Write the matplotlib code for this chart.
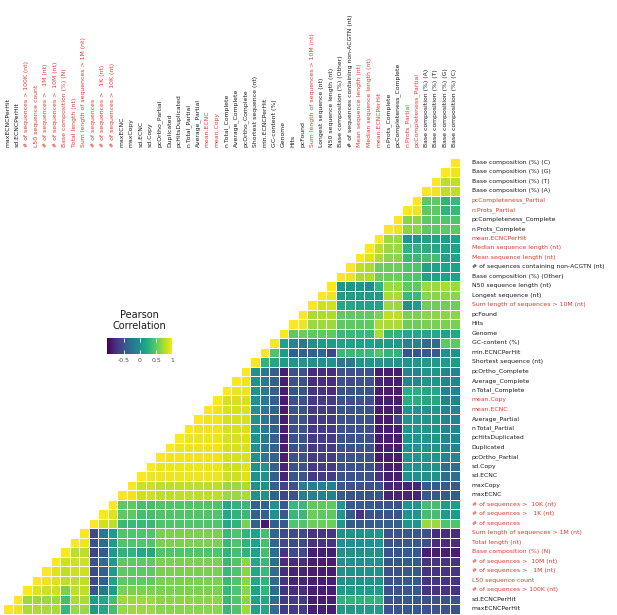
import numpy as np
import matplotlib
matplotlib.use("Agg")
import matplotlib.pyplot as plt
from matplotlib.colors import Normalize
from matplotlib.cm import ScalarMappable

# Variables, top row to bottom row (columns run the other way)
labels = [
    "Base composition (%) (C)",
    "Base composition (%) (G)",
    "Base composition (%) (T)",
    "Base composition (%) (A)",
    "pcCompleteness_Partial",
    "n.Prots_Partial",
    "pcCompleteness_Complete",
    "n.Prots_Complete",
    "mean.ECNCPerHit",
    "Median sequence length (nt)",
    "Mean sequence length (nt)",
    "# of sequences containing non-ACGTN (nt)",
    "Base composition (%) (Other)",
    "N50 sequence length (nt)",
    "Longest sequence (nt)",
    "Sum length of sequences > 10M (nt)",
    "pcFound",
    "Hits",
    "Genome",
    "GC-content (%)",
    "min.ECNCPerHit",
    "Shortest sequence (nt)",
    "pcOrtho_Complete",
    "Average_Complete",
    "n.Total_Complete",
    "mean.Copy",
    "mean.ECNC",
    "Average_Partial",
    "n.Total_Partial",
    "pcHitsDuplicated",
    "Duplicated",
    "pcOrtho_Partial",
    "sd.Copy",
    "sd.ECNC",
    "maxCopy",
    "maxECNC",
    "# of sequences >  10K (nt)",
    "# of sequences >   1K (nt)",
    "# of sequences",
    "Sum length of sequences > 1M (nt)",
    "Total length (nt)",
    "Base composition (%) (N)",
    "# of sequences >  10M (nt)",
    "# of sequences >   1M (nt)",
    "L50 sequence count",
    "# of sequences > 100K (nt)",
    "sd.ECNCPerHit",
    "maxECNCPerHit",
]

red_labels = {
    "pcCompleteness_Partial", "n.Prots_Partial", "mean.ECNCPerHit",
    "Median sequence length (nt)", "Mean sequence length (nt)",
    "Sum length of sequences > 10M (nt)", "mean.Copy", "mean.ECNC",
    "# of sequences >  10K (nt)", "# of sequences >   1K (nt)",
    "# of sequences", "Sum length of sequences > 1M (nt)",
    "Total length (nt)", "Base composition (%) (N)",
    "# of sequences >  10M (nt)", "# of sequences >   1M (nt)",
    "L50 sequence count", "# of sequences > 100K (nt)",
}

# Lower triangle, row i holds corr(var_i, var_1..var_i)
corr_base = [
    [1],
    [0.95, 1],
    [0.8, 0.8, 1],
    [0.8, 0.8, 0.95, 1],
    [0.35, 0.3, 0.5, 0.5, 1],
    [0.35, 0.3, 0.5, 0.5, 0.95, 1],
    [0.45, 0.45, 0.5, 0.5, 0.65, 0.65, 1],
    [0.5, 0.5, 0.5, 0.5, 0.65, 0.65, 0.95, 1],
]

corr_seq = [
    [0.15, 0.1, 0.15, 0.15, 0.05, 0.05, 0.7, 0.7, 1],
    [0.15, 0.15, 0.2, 0.25, 0.3, 0.3, 0.7, 0.7, 0.8, 1],
    [0.15, 0.15, 0.4, 0.4, 0.35, 0.35, 0.65, 0.65, 0.75, 0.9, 1],
    [0.15, 0.15, 0.15, 0.15, 0.45, 0.45, 0.55, 0.55, 0.55, 0.75, 0.8, 1],
    [0.15, 0.15, 0.15, 0.15, 0.45, 0.45, 0.55, 0.55, 0.55, 0.75, 0.75, 0.95, 1],
    [0.7, 0.75, 0.7, 0.7, 0.5, 0.5, 0.7, 0.7, 0.3, -0.05, 0.05, 0.05, 0.05, 1],
    [0.65, 0.65, 0.65, 0.65, 0.35, 0.35, 0.75, 0.75, 0.1, 0.1, 0.1, 0.1, 0.1,
     0.95, 1],
    [0.55, 0.55, 0.55, 0.55, 0.1, 0.0, 0.7, 0.7, 0.15, 0.15, 0.15, 0.2, 0.2,
     0.85, 0.85, 1],
]

corr_hits = [
    [0.65, 0.65, 0.65, 0.65, 0.6, 0.6, 0.8, 0.8, 0.6, 0.5, 0.5, 0.5, 0.5,
     0.75, 0.75, 0.75, 1],
    [0.6, 0.6, 0.6, 0.6, 0.55, 0.55, 0.75, 0.75, 0.75, 0.5, 0.5, 0.5, 0.5,
     0.7, 0.7, 0.7, 0.95, 1],
    [0.2, 0.15, 0.2, 0.2, 0.2, 0.2, 0.3, 0.3, 0.75, 0.35, 0.35, 0.35, 0.35,
     0.5, 0.5, 0.5, 0.55, 0.5, 1],
    [0.5, 0.5, -0.3, -0.3, -0.1, -0.1, 0.1, 0.1, 0.1, 0.15, 0.15, 0.15, 0.15,
     0.1, 0.1, 0.0, -0.2, -0.1, 0.15, 1],
    [0.0, 0.0, -0.45, -0.45, -0.5, -0.5, 0.3, 0.3, 0.45, 0.35, 0.35, 0.35, 0.35,
     -0.6, -0.35, -0.4, -0.4, -0.4, 0.1, 0.45, 1],
    [0.1, 0.1, 0.1, 0.1, 0.05, 0.05, 0.05, 0.05, 0.05, 0.05, 0.05, -0.2, -0.2,
     0.0, 0.0, 0.0, 0.05, 0.05, 0.1, 0.2, 0.3, 1],
]

corr_busco = [
    [-0.1, -0.1, 0.05, 0.05, -0.1, -0.1, -0.85, -0.85, -0.85, -0.5, -0.5, -0.5,
     -0.5, -0.75, -0.75, -0.75, -0.5, -0.5, -0.85, -0.4, -0.2, 0.0, 1],
    [-0.1, -0.1, 0.05, 0.05, -0.1, -0.1, -0.85, -0.85, -0.8, -0.5, -0.5, -0.55,
     -0.5, -0.75, -0.75, -0.75, -0.5, -0.5, -0.85, -0.4, -0.2, 0.0, 0.95, 1],
    [-0.1, -0.1, 0.2, 0.2, 0.25, 0.25, -0.85, -0.85, -0.85, -0.5, -0.5, -0.5,
     -0.5, -0.75, -0.7, -0.7, -0.5, -0.5, -0.85, -0.4, -0.2, 0.0, 0.95, 0.95, 1],
    [-0.1, -0.1, 0.2, 0.2, 0.25, 0.25, -0.85, -0.85, -0.85, -0.5, -0.5, -0.5,
     -0.5, -0.65, -0.65, -0.65, -0.5, -0.5, -0.85, -0.4, -0.2, 0.0, 0.88, 0.88,
     0.88, 1],
    [-0.1, -0.1, 0.05, 0.05, 0.05, 0.05, -0.8, -0.85, -0.85, -0.5, -0.5, -0.5,
     -0.5, -0.65, -0.65, -0.65, -0.5, -0.5, -0.85, -0.4, -0.2, 0.0, 0.88, 0.88,
     0.88, 0.95, 1],
    [-0.1, -0.1, 0.05, 0.05, 0.05, 0.05, -0.6, -0.85, -0.85, -0.5, -0.5, -0.5,
     -0.5, -0.65, -0.65, -0.65, -0.5, -0.5, -0.85, -0.4, -0.2, 0.0, 0.88, 0.88,
     0.88, 0.95, 0.95, 1],
    [-0.1, -0.1, 0.05, 0.05, 0.05, 0.05, -0.85, -0.85, -0.85, -0.5, -0.5, -0.5,
     -0.5, -0.65, -0.65, -0.65, -0.5, -0.5, -0.85, -0.4, -0.2, 0.0, 0.88, 0.88,
     0.88, 0.95, 0.95, 0.95, 1],
    [-0.1, -0.1, 0.05, 0.05, 0.05, 0.05, -0.85, -0.85, -0.85, -0.5, -0.5, -0.5,
     -0.5, -0.65, -0.65, -0.65, -0.5, -0.5, -0.85, -0.4, -0.2, 0.0, 0.88, 0.88,
     0.88, 0.95, 0.95, 0.95, 0.95, 1],
    [-0.1, -0.1, 0.05, 0.05, 0.05, 0.05, -0.85, -0.85, -0.85, -0.5, -0.5, -0.5,
     -0.5, -0.65, -0.65, -0.65, -0.5, -0.5, -0.85, -0.4, -0.2, 0.0, 0.88, 0.88,
     0.88, 0.95, 0.95, 0.95, 0.95, 0.95, 1],
    [-0.1, -0.1, 0.05, 0.05, 0.05, 0.05, -0.85, -0.85, -0.85, -0.5, -0.5, -0.5,
     -0.5, -0.65, -0.65, -0.65, -0.5, -0.5, -0.85, -0.4, -0.2, 0.0, 0.88, 0.88,
     0.88, 0.95, 0.95, 0.95, 0.95, 0.95, 0.95, 1],
]

corr_copy = [
    [-0.3, -0.3, 0.0, 0.0, 0.0, 0.0, -0.85, -0.85, -0.7, -0.5, -0.5, -0.5,
     -0.5, -0.65, -0.65, -0.65, -0.5, -0.5, -0.8, -0.4, 0.0, 0.0, 0.9, 0.85,
     0.85, 0.95, 0.95, 0.95, 0.95, 0.95, 0.95, 0.95, 1],
    [-0.3, -0.3, 0.0, 0.0, 0.0, 0.0, -0.85, -0.85, -0.7, -0.5, -0.5, -0.5,
     -0.5, -0.65, -0.65, -0.65, -0.5, -0.5, -0.8, -0.4, 0.0, 0.0, 0.9, 0.85,
     0.85, 0.95, 0.95, 0.95, 0.95, 0.95, 0.95, 0.95, 0.95, 1],
    [-0.45, -0.45, -0.45, -0.45, -0.8, -0.8, -0.8, -0.8, -0.5, -0.5, -0.5,
     -0.5, -0.45, -0.15, -0.15, -0.15, -0.15, -0.5, -0.6, -0.4, 0.0, 0.0,
     0.75, 0.7, 0.7, 0.8, 0.8, 0.8, 0.8, 0.8, 0.8, 0.8, 0.85, 0.85, 1],
    [-0.45, -0.45, -0.45, -0.45, -0.8, -0.8, -0.8, -0.8, -0.5, -0.5, -0.5,
     -0.5, -0.45, -0.15, -0.15, -0.15, -0.15, -0.5, -0.6, -0.4, 0.0, 0.0,
     0.75, 0.7, 0.7, 0.8, 0.8, 0.8, 0.8, 0.8, 0.8, 0.8, 0.85, 0.85, 0.95, 1],
    [0.1, 0.1, 0.4, 0.4, 0.05, 0.05, -0.5, -0.5, -0.5, -0.45, -0.45, -0.45,
     0.05, 0.5, 0.5, 0.5, 0.35, 0.35, -0.45, 0.0, -0.4, -0.4, 0.35, 0.3,
     0.2, 0.45, 0.45, 0.45, 0.45, 0.45, 0.45, 0.45, 0.4, 0.4, 0.5, 0.5, 1],
    [0.1, 0.1, 0.4, 0.4, 0.05, 0.05, -0.5, -0.5, -0.5, -0.5, -0.7, -0.45,
     0.05, 0.5, 0.5, 0.55, 0.35, 0.35, -0.45, 0.0, -0.4, -0.4, 0.35, 0.3,
     0.2, 0.45, 0.45, 0.45, 0.45, 0.45, 0.45, 0.45, 0.4, 0.4, 0.5, 0.5,
     0.9, 1],
    [0.45, 0.45, 0.7, 0.7, 0.05, 0.05, -0.4, -0.4, -0.4, -0.45, -0.45, -0.45,
     0.05, 0.55, 0.55, 0.55, 0.45, 0.45, -0.45, -0.4, -0.85, -0.4, 0.6, 0.3,
     0.2, 0.45, 0.45, 0.45, 0.45, 0.45, 0.45, 0.45, 0.35, 0.35, 0.35, 0.35,
     0.8, 0.85, 1],
]

corr_length = [
    [-0.75, -0.75, -0.75, -0.5, -0.45, -0.45, -0.5, -0.5, 0.05, 0.0, 0.0,
     0.0, 0.0, -0.7, -0.7, -0.7, -0.55, -0.55, -0.55, -0.35, 0.4, 0.15,
     0.3, 0.45, 0.35, 0.6, 0.6, 0.6, 0.6, 0.6, 0.6, 0.6, 0.45, 0.45, 0.45,
     0.45, 0.1, -0.2, -0.55, 1],
    [-0.75, -0.75, -0.75, -0.5, -0.45, -0.45, -0.5, -0.5, 0.05, 0.0, 0.0,
     0.0, 0.0, -0.7, -0.7, -0.7, -0.55, -0.55, -0.55, -0.35, 0.4, 0.15,
     0.3, 0.45, 0.35, 0.6, 0.6, 0.6, 0.6, 0.6, 0.6, 0.6, 0.45, 0.45, 0.45,
     0.45, 0.1, -0.3, -0.5, 0.95, 1],
    [-0.85, -0.85, -0.85, -0.85, -0.45, -0.45, -0.5, -0.5, 0.0, 0.0, 0.0,
     0.0, 0.0, -0.85, -0.85, -0.85, -0.55, -0.55, -0.7, -0.3, 0.4, 0.15,
     0.3, 0.4, 0.3, 0.45, 0.45, 0.45, 0.45, 0.45, 0.45, 0.45, 0.2, 0.2, 0.3,
     0.3, 0.1, -0.45, -0.6, 0.8, 0.8, 1],
    [-0.7, -0.7, -0.7, -0.7, -0.45, -0.45, -0.5, -0.5, 0.0, 0.0, 0.0,
     0.0, 0.0, -0.85, -0.85, -0.85, -0.75, -0.75, -0.75, -0.3, 0.35, 0.2,
     0.65, 0.45, 0.35, 0.6, 0.6, 0.6, 0.6, 0.6, 0.6, 0.6, 0.5, 0.5, 0.5,
     0.5, 0.1, -0.3, -0.5, 0.85, 0.85, 0.85, 1],
    [-0.7, -0.7, -0.7, -0.7, -0.45, -0.45, -0.5, -0.5, 0.0, 0.0, 0.0,
     0.0, 0.0, -0.85, -0.85, -0.85, -0.8, -0.8, -0.75, -0.3, 0.35, 0.2,
     0.65, 0.45, 0.35, 0.6, 0.6, 0.6, 0.6, 0.6, 0.6, 0.6, 0.5, 0.5, 0.5,
     0.5, 0.1, -0.4, -0.55, 0.85, 0.85, 0.8, 0.9, 1],
    [-0.7, -0.7, -0.7, -0.7, -0.45, -0.45, -0.5, -0.5, 0.0, 0.0, 0.0,
     0.0, 0.0, -0.85, -0.85, -0.85, -0.8, -0.8, -0.7, -0.3, 0.3, 0.2,
     0.65, 0.45, 0.35, 0.6, 0.6, 0.6, 0.6, 0.6, 0.6, 0.6, 0.5, 0.5, 0.5,
     0.5, 0.15, -0.4, -0.55, 0.8, 0.8, 0.8, 0.9, 0.95, 1],
    [-0.7, -0.7, -0.7, -0.7, -0.45, -0.45, -0.5, -0.5, 0.1, 0.1, 0.1,
     0.1, 0.1, -0.85, -0.85, -0.85, -0.75, -0.75, -0.7, -0.3, 0.3, 0.15,
     0.65, 0.45, 0.35, 0.6, 0.6, 0.6, 0.6, 0.6, 0.6, 0.6, 0.6, 0.6, 0.6,
     0.6, 0.1, -0.2, -0.5, 0.8, 0.8, 0.6, 0.85, 0.85, 0.9, 1],
    [-0.5, -0.5, -0.5, -0.5, -0.45, -0.45, -0.5, -0.5, 0.3, 0.3, 0.3,
     0.3, 0.3, -0.85, -0.85, -0.85, -0.65, -0.65, -0.65, -0.3, 0.2, 0.15,
     0.65, 0.45, 0.35, 0.65, 0.65, 0.65, 0.65, 0.65, 0.65, 0.65, 0.7, 0.7,
     0.7, 0.7, 0.4, 0.2, 0.1, 0.75, 0.75, 0.4, 0.7, 0.7, 0.7, 0.7, 1],
    [-0.5, -0.5, -0.5, -0.5, -0.45, -0.45, -0.5, -0.5, 0.1, 0.1, 0.1,
     0.1, 0.1, -0.85, -0.85, -0.85, -0.65, -0.65, -0.65, -0.3, 0.2, 0.15,
     0.7, 0.45, 0.35, 0.65, 0.65, 0.65, 0.65, 0.65, 0.65, 0.65, 0.7, 0.7,
     0.7, 0.7, 0.4, 0.2, 0.1, 0.7, 0.7, 0.35, 0.75, 0.75, 0.75, 0.75, 0.95, 1],
]

RED = "#e0392f"
DARK = "#1a1a1a"

rows = corr_base + corr_seq + corr_hits + corr_busco + corr_copy + corr_length
n = len(labels)
for i, r in enumerate(rows):
    assert len(r) == i + 1, (i, len(r))

# row i, column j: column 0 is the last variable, column n-1 the first
grid = np.full((n, n), np.nan)
for i, r in enumerate(rows):
    for k, val in enumerate(r):
        grid[i, n - 1 - k] = val
masked = np.ma.masked_invalid(grid)

W, H = 617, 615
fig = plt.figure(figsize=(W / 100, H / 100), dpi=100)

# heatmap
ax = fig.add_axes([3 / W, 1.5 / H, 456.5 / W, 456 / H])
ax.pcolormesh(np.arange(n + 1), np.arange(n + 1), masked, cmap="viridis",
              vmin=-1, vmax=1, edgecolors="white", linewidth=0.45)
ax.set_xlim(0, n)
ax.set_ylim(n, 0)
ax.axis("off")

fs = 4.4
for i, lab in enumerate(labels):
    col = RED if lab in red_labels else DARK
    ax.text(n + 1.28, i + 0.5, lab, fontsize=fs, color=col,
            ha="left", va="center", clip_on=False)
for c in range(n):
    lab = labels[n - 1 - c]
    col = RED if lab in red_labels else DARK
    ax.text(c + 0.5, -1.1, lab, fontsize=fs, color=col, rotation=90,
            ha="center", va="bottom", clip_on=False)

# legend
fig.text(139 / W, 1 - 320.5 / H, "Pearson\nCorrelation", fontsize=7,
         ha="center", va="center", linespacing=1.15, color=DARK)
cax = fig.add_axes([107.3 / W, 1 - 354 / H, 65 / W, 15.7 / H])
cb = fig.colorbar(ScalarMappable(norm=Normalize(-1, 1), cmap="viridis"),
                  cax=cax, orientation="horizontal")
cb.outline.set_visible(False)
cb.set_ticks([-0.5, 0, 0.5, 1])
cb.set_ticklabels(["-0.5", "0", "0.5", "1"])
cax.tick_params(axis="x", direction="in", length=3, width=0.6, color="white",
                labelsize=4.5, labelcolor="#4d4d4d", pad=3, top=True,
                labeltop=False)

fig.savefig("out.png", dpi=100)
